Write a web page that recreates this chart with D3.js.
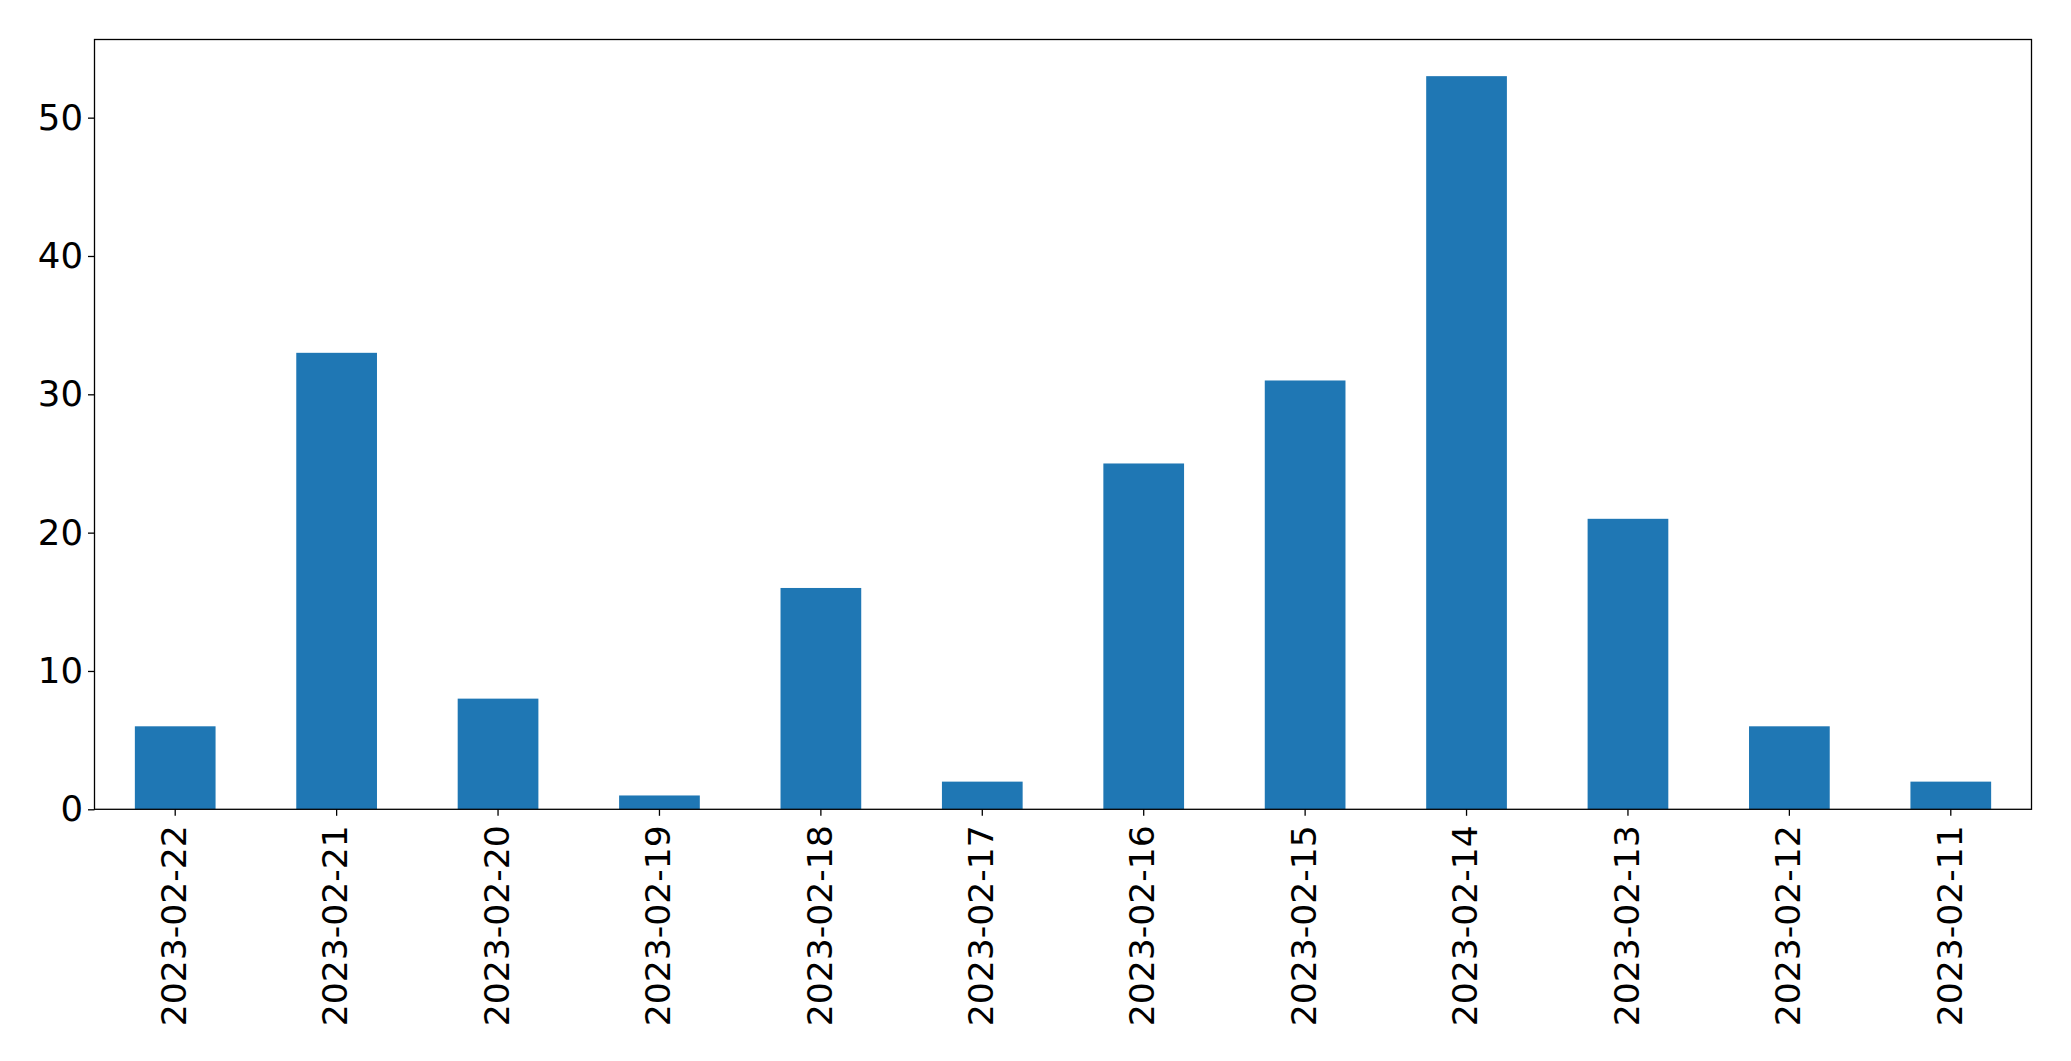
<!DOCTYPE html>
<html>
<head>
<meta charset="utf-8">
<script src="https://cdn.jsdelivr.net/npm/d3@7"></script>
<style>
  html, body { margin: 0; padding: 0; background: #ffffff; }
  svg { display: block; }
</style>
</head>
<body>
<svg id="chart" width="2071" height="1061"></svg>
<script>
const categories = ["2023-02-22","2023-02-21","2023-02-20","2023-02-19","2023-02-18","2023-02-17","2023-02-16","2023-02-15","2023-02-14","2023-02-13","2023-02-12","2023-02-11"];
const values = [6, 33, 8, 1, 16, 2, 25, 31, 53, 21, 6, 2];
const yTicks = [0, 10, 20, 30, 40, 50];

const W = 2071, H = 1061;
const margin = {left: 94.5, right: W - 2031.5, top: 39.5, bottom: H - 809.3};
const svg = d3.select("#chart");
const fontFamily = "'DejaVu Sans', sans-serif";
const fontSize = 34.6;

const x = d3.scaleBand()
  .domain(categories)
  .range([margin.left, W - margin.right])
  .paddingInner(0.5)
  .paddingOuter(0.25);

const yMax = d3.max(values) * 1.05;
const y = d3.scaleLinear()
  .domain([0, yMax])
  .range([H - margin.bottom, margin.top]);

// bars
svg.append("g")
  .selectAll("rect")
  .data(values)
  .join("rect")
  .attr("x", (d, i) => x(categories[i]))
  .attr("width", x.bandwidth())
  .attr("y", d => y(d))
  .attr("height", d => y(0) - y(d))
  .attr("fill", "#1f77b4");

// y axis
const yAxis = svg.append("g")
  .attr("transform", `translate(${margin.left},0)`)
  .call(d3.axisLeft(y).tickValues(yTicks).tickSize(6.5).tickPadding(5).tickFormat(d3.format("d")));
yAxis.select(".domain").remove();
yAxis.selectAll("line").attr("stroke", "#000").attr("stroke-width", 1.3);
yAxis.selectAll("text")
  .attr("font-family", fontFamily)
  .attr("font-size", 35.5)
  .attr("fill", "#000");

// x axis
const xAxis = svg.append("g")
  .attr("transform", `translate(0,${H - margin.bottom})`)
  .call(d3.axisBottom(x).tickSize(6.5).tickPadding(0));
xAxis.select(".domain").remove();
xAxis.selectAll("line").attr("stroke", "#000").attr("stroke-width", 1.3);
xAxis.selectAll("text")
  .attr("font-family", fontFamily)
  .attr("font-size", fontSize)
  .attr("fill", "#000")
  .attr("transform", "rotate(-90)")
  .attr("text-anchor", "end")
  .attr("x", -16)
  .attr("y", 0)
  .attr("dy", "0.31em");

// frame
svg.append("rect")
  .attr("x", margin.left)
  .attr("y", margin.top)
  .attr("width", W - margin.right - margin.left)
  .attr("height", H - margin.bottom - margin.top)
  .attr("fill", "none")
  .attr("stroke", "#000")
  .attr("stroke-width", 1.3);
</script>
</body>
</html>
